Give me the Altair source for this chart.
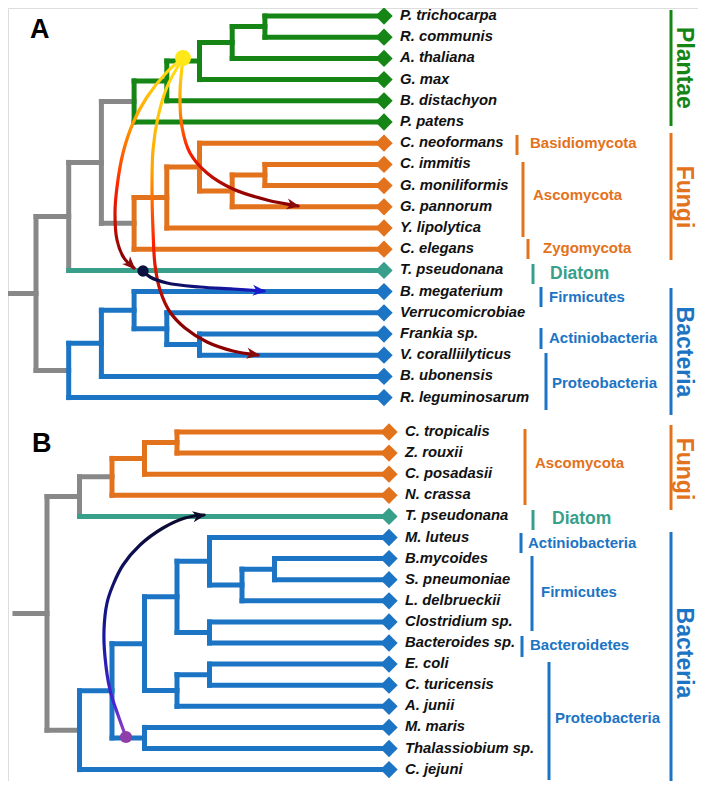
import math
import altair as alt
import pandas as pd

# ---------------- data ----------------
COLORS = {"gray": "#888888", "Plantae": "#158615", "Fungi": "#E3721C",
          "Diatom": "#38A08A", "Bacteria": "#1C74C4"}

leaves_A = ["P. trichocarpa", "R. communis", "A. thaliana", "G. max", "B. distachyon", "P. patens",
            "C. neoformans", "C. immitis", "G. moniliformis", "G. pannorum", "Y. lipolytica", "C. elegans",
            "T. pseudonana", "B. megaterium", "Verrucomicrobiae", "Frankia sp.", "V. coralliilyticus",
            "B. ubonensis", "R. leguminosarum"]
groups_A = ["Plantae"] * 6 + ["Fungi"] * 6 + ["Diatom"] + ["Bacteria"] * 6

leaves_B = ["C. tropicalis", "Z. rouxii", "C. posadasii", "N. crassa", "T. pseudonana", "M. luteus",
            "B.mycoides", "S. pneumoniae", "L. delbrueckii", "Clostridium sp.", "Bacteroides sp.",
            "E. coli", "C. turicensis", "A. junii", "M. maris", "Thalassiobium sp.", "C. jejuni"]
groups_B = ["Fungi"] * 4 + ["Diatom"] + ["Bacteria"] * 12

# topology: (depth, clade, [children]); integers are leaf indices
tree_A = (0, "gray", [
    (1, "gray", [
        (2, "gray", [
            (3, "Plantae", [(4, "Plantae", [(5, "Plantae", [(6, "Plantae", [(7, "Plantae", [0, 1]), 2]), 3]), 4]), 5]),
            (3, "Fungi", [(4, "Fungi", [(5, "Fungi", [6, (6, "Fungi", [(7, "Fungi", [7, 8]), 9])]), 10]), 11]),
        ]),
        12,
    ]),
    (1, "Bacteria", [(2, "Bacteria", [(3, "Bacteria", [13, (4, "Bacteria", [14, (5, "Bacteria", [15, 16])])]), 17]), 18]),
])

tree_B = (0, "gray", [
    (1, "gray", [
        (2, "Fungi", [(3, "Fungi", [(4, "Fungi", [0, 1]), 2]), 3]),
        4,
    ]),
    (1, "Bacteria", [
        (2, "Bacteria", [
            (3, "Bacteria", [
                (4, "Bacteria", [
                    (5, "Bacteria", [5, (6, "Bacteria", [(7, "Bacteria", [6, 7]), 8])]),
                    (5, "Bacteria", [9, 10]),
                ]),
                (4, "Bacteria", [(5, "Bacteria", [11, 12]), 13]),
            ]),
            (3, "Bacteria", [14, 15]),
        ]),
        16,
    ]),
])

# clade brackets: name, clade, bar x, bar y1, bar y2, text x, text y
phyla = [
    ("Basidiomycota", "Fungi", 517, 135, 155, 530, 143),
    ("Ascomycota", "Fungi", 523, 162, 237, 533, 195),
    ("Zygomycota", "Fungi", 528, 239, 259, 543, 248),
    ("Diatom", "Diatom", 533, 264, 284, 550, 274),
    ("Firmicutes", "Bacteria", 541, 287, 307, 549, 297),
    ("Actiniobacteria", "Bacteria", 541, 328, 349, 549, 338),
    ("Proteobacteria", "Bacteria", 546, 353, 410, 552, 383),
    ("Ascomycota", "Fungi", 525, 429, 505, 535, 463),
    ("Diatom", "Diatom", 533, 510, 530, 552, 519),
    ("Actiniobacteria", "Bacteria", 521, 533, 553, 528, 543),
    ("Firmicutes", "Bacteria", 532, 556, 631, 541, 592),
    ("Bacteroidetes", "Bacteria", 522, 636, 657, 530, 645),
    ("Proteobacteria", "Bacteria", 549, 662, 780, 555, 718),
]
kingdoms = [
    ("Plantae", "Plantae", 671, 10, 126, 684, 68),
    ("Fungi", "Fungi", 671, 133, 260, 684, 197),
    ("Bacteria", "Bacteria", 671, 288, 415, 684, 352),
    ("Fungi", "Fungi", 671, 425, 510, 684, 469),
    ("Bacteria", "Bacteria", 671, 532, 782, 684, 653),
]

# gene transfer curves (waypoints)
curve_a1 = [(183, 58), (167, 72), (147, 97), (133, 123), (123, 153), (117, 187), (115, 213),
            (117, 240), (124, 258), (134, 268)]
curve_a2 = [(183, 58), (167, 87), (158, 117), (153, 150), (152, 190), (153, 230), (155, 265),
            (160, 290), (170, 312), (185, 328), (207, 342), (233, 351), (258, 355)]
curve_a3 = [(183, 58), (180, 93), (182, 127), (190, 153), (207, 173), (233, 189), (267, 200), (298, 206)]
curve_a4 = [(143, 271), (150, 277), (167, 283), (200, 287), (233, 289), (264, 291)]
curve_b1 = [(126, 737), (118, 715), (110, 690), (105, 657), (104, 630), (107, 603), (113, 585),
            (123, 565), (140, 545), (163, 528), (185, 518), (204, 515)]

WARM = [("#FFE41A", 0.0), ("#FFA200", 0.3), ("#FF2000", 0.62), ("#8B0000", 0.95)]
curves = [
    (curve_a1, WARM, "v", "#8B0A0A"),
    (curve_a2, [("#FFE41A", 0.0), ("#FFA200", 0.38), ("#FF2000", 0.62), ("#8B0000", 0.9)], "v", "#8B0A0A"),
    (curve_a3, WARM, "v", "#8B0A0A"),
    (curve_a4, [("#0B0B3D", 0.0), ("#1A1AC8", 1.0)], "h", "#1A1AD0"),
    (curve_b1, [("#0A0A2A", 0.0), ("#1818A0", 0.55), ("#4A24D0", 0.85), ("#9A40C0", 1.0)], "v", "#0A0A2A"),
]
dots = [(183, 58, "#FFE81A", 256), (143, 271, "#0B1040", 130), (126, 737, "#8E3FA8", 150)]

panel_labels = [("A", 30, 38), ("B", 32, 452)]

# ---------------- layout ----------------
panels = [
    (tree_A, leaves_A, groups_A, dict(top=16, step=21.2, x0=36, dx=32.7, tip=384, stub=7, lx=400)),
    (tree_B, leaves_B, groups_B, dict(top=432, step=21.1, x0=47, dx=32.5, tip=389, stub=15, lx=405)),
]

segs, tips = [], []
for tree, leaves, groups, g in panels:
    def walk(node):
        if isinstance(node, int):
            return g["top"] + g["step"] * node, g["tip"], groups[node], True
        depth, clade, children = node
        x = g["x0"] + g["dx"] * depth
        ys = []
        for ch in children:
            cy, cx, cclade, is_leaf = walk(ch)
            col = cclade if is_leaf else clade
            segs.append(dict(x=x, x2=cx, y=cy, y2=cy, color=COLORS[col], z=0 if col == "gray" else 1))
            ys.append(cy)
        segs.append(dict(x=x, x2=x, y=min(ys), y2=max(ys), color=COLORS[clade], z=0 if clade == "gray" else 1))
        return (min(ys) + max(ys)) / 2, x, clade, False

    ry, rx, _, _ = walk(tree)
    segs.append(dict(x=g["stub"], x2=rx, y=ry, y2=ry, color=COLORS["gray"], z=0))
    for i, (name, grp) in enumerate(zip(leaves, groups)):
        tips.append(dict(x=g["tip"], y=g["top"] + g["step"] * i, color=COLORS[grp],
                         lx=g["lx"], label=name))

seg_df = pd.DataFrame(segs).sort_values("z", kind="stable")
tip_df = pd.DataFrame(tips)

X = lambda f="x": alt.X(f"{f}:Q", scale=alt.Scale(domain=[8, 698], nice=False, zero=False), axis=None)
Y = lambda f="y": alt.Y(f"{f}:Q", scale=alt.Scale(domain=[8, 781], nice=False, zero=False, reverse=True), axis=None)

layers = []
layers.append(alt.Chart(seg_df).mark_rule(strokeWidth=5, strokeCap="square").encode(
    x=X(), x2="x2:Q", y=Y(), y2="y2:Q", color=alt.Color("color:N", scale=None)))
layers.append(alt.Chart(tip_df).mark_point(shape="diamond", filled=True, size=300, opacity=1).encode(
    x=X(), y=Y(), color=alt.Color("color:N", scale=None)))
layers.append(alt.Chart(tip_df).mark_text(align="left", baseline="middle", font="Liberation Sans",
                                          fontStyle="italic", fontWeight="bold", fontSize=14.8,
                                          color="#111111").encode(
    x=X("lx"), y=Y(), text="label:N"))

ph_df = pd.DataFrame([dict(name=n, color=COLORS[c], bx=bx, by1=b1, by2=b2, tx=tx, ty=ty,
                           fs=17.5 if n == "Diatom" else 15) for n, c, bx, b1, b2, tx, ty in phyla])
layers.append(alt.Chart(ph_df).mark_rule(strokeWidth=3).encode(
    x=X("bx"), y=Y("by1"), y2="by2:Q", color=alt.Color("color:N", scale=None)))
layers.append(alt.Chart(ph_df).mark_text(align="left", baseline="middle", font="Liberation Sans",
                                         fontWeight="bold").encode(
    x=X("tx"), y=Y("ty"), text="name:N", color=alt.Color("color:N", scale=None),
    size=alt.Size("fs:Q", scale=None)))

kg_df = pd.DataFrame([dict(name=n, color=COLORS[c], bx=bx, by1=b1, by2=b2, tx=tx, ty=ty)
                      for n, c, bx, b1, b2, tx, ty in kingdoms])
layers.append(alt.Chart(kg_df).mark_rule(strokeWidth=3).encode(
    x=X("bx"), y=Y("by1"), y2="by2:Q", color=alt.Color("color:N", scale=None)))
layers.append(alt.Chart(kg_df).mark_text(align="center", baseline="middle", font="Liberation Sans",
                                         fontWeight="bold", fontSize=23, angle=90).encode(
    x=X("tx"), y=Y("ty"), text="name:N", color=alt.Color("color:N", scale=None)))

ARROW = "M0,0L-1,-0.42L-0.72,0L-1,0.42Z"
heads = []
for pts, stops, d, head in curves:
    cdf = pd.DataFrame([dict(x=p[0], y=p[1], i=k) for k, p in enumerate(pts)])
    grad = alt.LinearGradient(
        gradient="linear",
        stops=[alt.GradientStop(color=c, offset=o) for c, o in stops],
        x1=0, y1=0, x2=(1 if d == "h" else 0), y2=(0 if d == "h" else 1))
    layers.append(alt.Chart(cdf).mark_line(stroke=grad, strokeWidth=3.2, interpolate="catmull-rom",
                                           strokeCap="round").encode(
        x=X(), y=Y(), order="i:Q"))
    (x0, y0), (x1, y1) = pts[-2], pts[-1]
    ang = math.degrees(math.atan2(y1 - y0, x1 - x0)) % 360
    heads.append(dict(x=x1 + 2 * math.cos(math.radians(ang)), y=y1 + 2 * math.sin(math.radians(ang)),
                      ang=ang, color=head))

layers.append(alt.Chart(pd.DataFrame(heads)).mark_point(shape=ARROW, filled=True, size=700, opacity=1).encode(
    x=X(), y=Y(), angle=alt.Angle("ang:Q", scale=None), color=alt.Color("color:N", scale=None)))

dot_df = pd.DataFrame([dict(x=a, y=b, color=c, s=s) for a, b, c, s in dots])
layers.append(alt.Chart(dot_df).mark_point(shape="circle", filled=True, opacity=1).encode(
    x=X(), y=Y(), color=alt.Color("color:N", scale=None), size=alt.Size("s:Q", scale=None)))

pl_df = pd.DataFrame([dict(t=t, x=a, y=b) for t, a, b in panel_labels])
layers.append(alt.Chart(pl_df).mark_text(align="left", baseline="alphabetic", font="Liberation Sans",
                                         fontWeight="bold", fontSize=27, color="#000000").encode(
    x=X(), y=Y(), text="t:N"))

chart = alt.layer(*layers).properties(
    width=690, height=773, padding=0, autosize=alt.AutoSizeParams(type="none")
).configure_view(strokeWidth=0, stroke="transparent").configure(background="white")

chart.save("out.html", embed_options={"renderer": "svg", "actions": False})
